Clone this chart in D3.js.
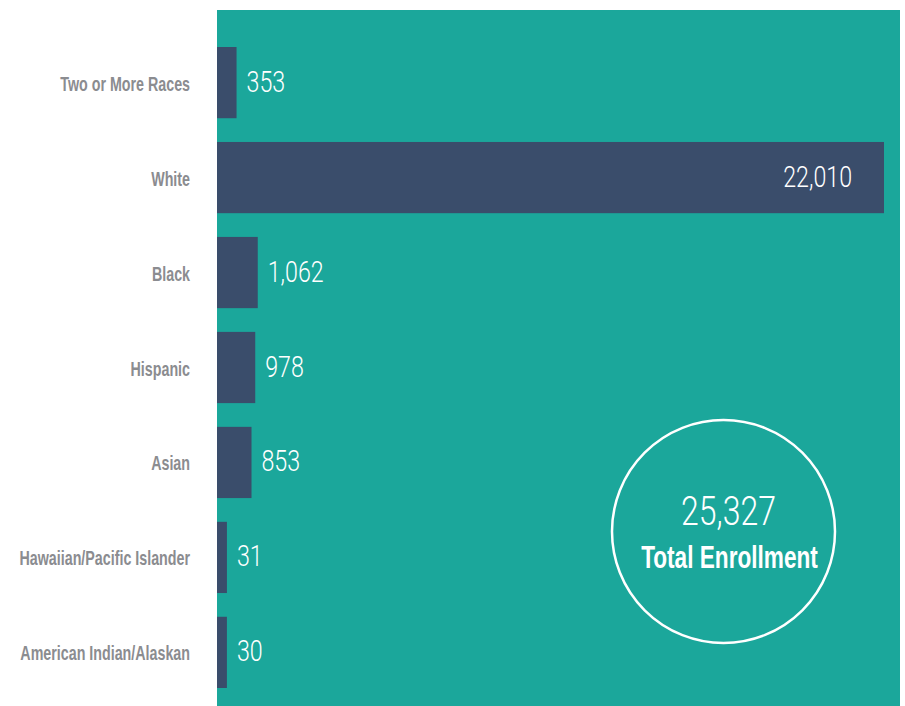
<!DOCTYPE html>
<html>
<head>
<meta charset="utf-8">
<script src="https://cdn.jsdelivr.net/npm/d3@7"></script>
<style>
  body { margin: 0; background: #fff; }
  svg { display: block; }
</style>
</head>
<body>
<script>
// enrollment by race / ethnicity
const categories = ["Two or More Races", "White", "Black", "Hispanic", "Asian", "Hawaiian/Pacific Islander", "American Indian/Alaskan"]
const counts = [353, 22010, 1062, 978, 853, 31, 30]
const totalLabel = "25,327"
const totalTitle = "Total Enrollment"

const w = 905
const h = 706
const panelX = 217
const panelY = 10
const panelR = 900

const teal = "#1ba79b"
const navy = "#3a4d6b"
const gray = "#8b8c90"

const data = categories.map((c, i) => ({ name: c, value: counts[i] }))

const svg = d3.select("body")
              .append("svg")
              .attr("width", w)
              .attr("height", h)

svg.append("rect")
   .attr("x", panelX)
   .attr("y", panelY)
   .attr("width", panelR - panelX)
   .attr("height", h - panelY)
   .attr("fill", teal)

const yScale = d3.scaleBand()
                 .domain(categories)
                 .range([47, 688])
                 .paddingInner(0.25)
                 .paddingOuter(0)

// bars keep a small stub so tiny values stay visible
const xScale = d3.scaleLinear()
                 .domain([0, d3.max(counts)])
                 .range([panelX + 9, 884])

// condensed look: squeeze text horizontally around its anchor point
const squeeze = (x, y, f) => "translate(" + x + "," + y + ") scale(" + f + ",1)"

svg.selectAll(".bar")
   .data(data)
   .enter()
   .append("rect")
   .attr("class", "bar")
   .attr("x", panelX)
   .attr("y", d => yScale(d.name))
   .attr("width", d => xScale(d.value) - panelX)
   .attr("height", yScale.bandwidth())
   .attr("fill", navy)

svg.selectAll(".cat")
   .data(data)
   .enter()
   .append("text")
   .attr("class", "cat")
   .attr("transform", d => squeeze(190, yScale(d.name) + yScale.bandwidth() / 2 + 8, 0.68))
   .attr("text-anchor", "end")
   .attr("fill", gray)
   .style("font-family", "'Liberation Sans', Arial, sans-serif")
   .style("font-weight", "bold")
   .style("font-size", "21px")
   .text(d => d.name)

const fmt = d3.format(",")
const big = d3.max(counts)

svg.selectAll(".val")
   .data(data)
   .enter()
   .append("text")
   .attr("class", "val")
   .attr("transform", d => squeeze(d.value === big ? xScale(d.value) - 32 : xScale(d.value) + 10,
                                   yScale(d.name) + yScale.bandwidth() / 2 + 9, 0.8))
   .attr("text-anchor", d => d.value === big ? "end" : "start")
   .attr("fill", "#fff")
   .style("font-family", "Roboto, 'Liberation Sans', sans-serif")
   .style("font-weight", "300")
   .style("font-size", "29px")
   .text(d => fmt(d.value))

// total badge
const cx = 723.5
const cy = 531.5
svg.append("circle")
   .attr("cx", cx)
   .attr("cy", cy)
   .attr("r", 111.5)
   .attr("fill", "none")
   .attr("stroke", "#fff")
   .attr("stroke-width", 2.5)

svg.append("text")
   .attr("transform", squeeze(cx + 5, 525, 0.78))
   .attr("text-anchor", "middle")
   .attr("fill", "#fff")
   .style("font-family", "Roboto, 'Liberation Sans', sans-serif")
   .style("font-weight", "300")
   .style("font-size", "41px")
   .text(totalLabel)

svg.append("text")
   .attr("transform", squeeze(cx + 6, 568, 0.73))
   .attr("text-anchor", "middle")
   .attr("fill", "#fff")
   .style("font-family", "'Liberation Sans', Arial, sans-serif")
   .style("font-weight", "bold")
   .style("font-size", "31px")
   .text(totalTitle)
</script>
</body>
</html>
